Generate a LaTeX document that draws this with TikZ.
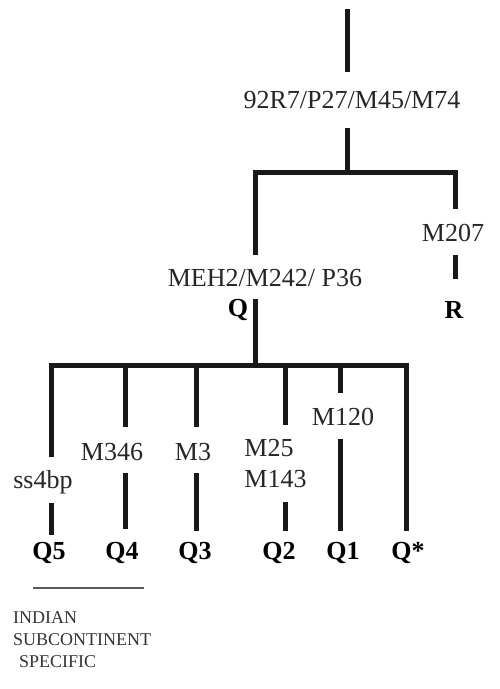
\documentclass[tikz,border=0pt]{standalone}
\usepackage{fontspec}
\setmainfont{Liberation Serif}
\tikzset{
  br/.style={line width=5pt, black!90},
  lab/.style={inner sep=0pt, font=\fontsize{26}{31}\selectfont, text=black!85},
  hap/.style={inner sep=0pt, font=\fontsize{26}{31}\selectfont\bfseries, text=black},
  note/.style={inner sep=0pt, font=\fontsize{18}{22}\selectfont, text=black!80, align=left, anchor=west},
}
\begin{document}
\begin{tikzpicture}[x=1pt,y=-1pt]
\useasboundingbox (0,0) rectangle (500,689);
% top trunk
\coordinate (top) at (347,9);
\node[lab] (m1) at (352,100) {92R7/P27/M45/M74};
\draw[br] (top) -- (347,72);
\draw[br] (347,128) -- (347,172);
% first split
\coordinate (bl) at (255,172);
\coordinate (brr) at (455,172);
\draw[br] (255,255) -- (bl) -- (brr) -- (455,209);
\node[lab] (m207) at (453,233) {M207};
\draw[br] (455,255) -- (455,279);
\node[hap] (R) at (454,310) {R};
\node[lab] (meh) at (265,278) {MEH2/M242/ P36};
\node[hap] (Q) at (238,310) {Q};
\draw[br] (255,299) -- (255,365);
% second split
\coordinate (c1) at (51,365);
\coordinate (c6) at (406,365);
\draw[br] (51,457) -- (c1) -- (c6) -- (406,531);
% Q5
\node[lab] (ss) at (43,482) {ss4bp};
\draw[br] (51,503) -- (51,535);
\node[hap] (q5) at (49,553) {Q5};
% Q4
\draw[br] (125,365) -- (125,427);
\node[lab] (m346) at (112,452) {M346};
\draw[br] (125,473) -- (125,529);
\node[hap] (q4) at (122,553) {Q4};
% Q3
\draw[br] (196,365) -- (196,427);
\node[lab] (m3) at (193,452) {M3};
\draw[br] (196,473) -- (196,531);
\node[hap] (q3) at (195,553) {Q3};
% Q2
\draw[br] (285,365) -- (285,425);
\node[lab, align=left] (m25) at (275.5,463.5) {M25\\M143};
\draw[br] (285,502) -- (285,531);
\node[hap] (q2) at (279,553) {Q2};
% Q1
\draw[br] (340,365) -- (340,393);
\node[lab] (m120) at (343,417) {M120};
\draw[br] (340,439) -- (340,531);
\node[hap] (q1) at (343,553) {Q1};
% Q*
\node[hap] (qs) at (408,553) {Q*};
% note
\draw[line width=1.8pt, black!65] (33,588) -- (144,588);
\node[note] (ind) at (13,640) {INDIAN\\SUBCONTINENT\\\hspace{6pt}SPECIFIC};
\end{tikzpicture}
\end{document}
